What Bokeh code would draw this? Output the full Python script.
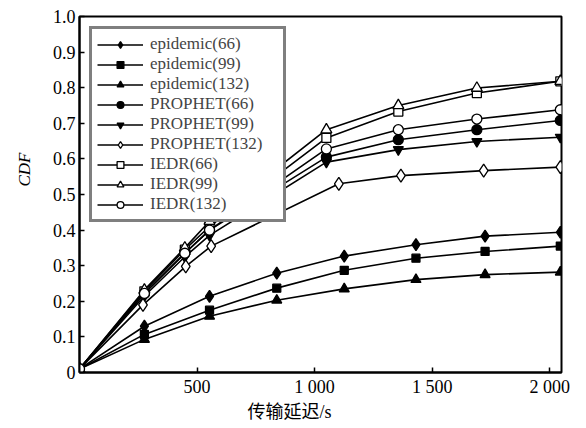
from bokeh.plotting import figure
from bokeh.models import FixedTicker, Range1d, Legend, Title
from bokeh.embed import file_html
from bokeh.resources import INLINE

# ---- data ----
epi_x = [0, 276, 553, 839, 1126, 1431, 1725, 2045]
epidemic66 = [0.01, 0.130, 0.214, 0.279, 0.327, 0.359, 0.383, 0.394]
epidemic99 = [0.01, 0.107, 0.175, 0.237, 0.287, 0.321, 0.340, 0.355]
epidemic132 = [0.01, 0.093, 0.158, 0.203, 0.235, 0.261, 0.275, 0.282]

up_x = [0, 276, 448, 553, 1050, 1356, 1690, 2045]
p132_x = [0, 270, 452, 560, 1103, 1367, 1719, 2045]
prophet66 = [0.01, 0.222, 0.335, 0.400, 0.605, 0.654, 0.682, 0.708]
prophet99 = [0.01, 0.215, 0.325, 0.385, 0.591, 0.626, 0.649, 0.661]
prophet132 = [0.01, 0.190, 0.298, 0.355, 0.530, 0.553, 0.567, 0.577]
iedr66 = [0.01, 0.228, 0.345, 0.410, 0.659, 0.733, 0.785, 0.818]
iedr99 = [0.01, 0.232, 0.350, 0.425, 0.682, 0.750, 0.799, 0.818]
iedr132 = [0.01, 0.222, 0.335, 0.400, 0.628, 0.682, 0.712, 0.738]

x_ticks = [500, 1000, 1500, 2000]
x_tick_labels = ["500", "1 000", "1 500", "2 000"]
y_ticks = [0, 0.1, 0.2, 0.3, 0.4, 0.5, 0.6, 0.7, 0.8, 0.9, 1.0]
y_tick_labels = ["0", "0.1", "0.2", "0.3", "0.4", "0.5", "0.6", "0.7", "0.8", "0.9", "1.0"]

series = [
    ("epidemic(66)", epi_x, epidemic66, "diamond", True, 12),
    ("epidemic(99)", epi_x, epidemic99, "square", True, 8),
    ("epidemic(132)", epi_x, epidemic132, "triangle", True, 10),
    ("PROPHET(66)", up_x, prophet66, "circle", True, 10),
    ("PROPHET(99)", up_x, prophet99, "inverted_triangle", True, 10),
    ("PROPHET(132)", p132_x, prophet132, "diamond", False, 13),
    ("IEDR(66)", up_x, iedr66, "square", False, 9),
    ("IEDR(99)", up_x, iedr99, "triangle", False, 11),
    ("IEDR(132)", up_x, iedr132, "circle", False, 10),
]

SERIF = "'Liberation Serif', 'Times New Roman', 'DejaVu Serif', serif"
CJK = "'Liberation Serif', 'Noto Sans CJK SC', serif"

p = figure(width=578, height=426, output_backend="svg", toolbar_location=None,
           x_range=Range1d(0, 2050), y_range=Range1d(0, 1.0),
           min_border_left=76, min_border_right=17, min_border_top=16, min_border_bottom=54)
p.xgrid.visible = False
p.ygrid.visible = False
p.outline_line_color = "black"
p.outline_line_width = 2
p.background_fill_color = "white"
p.border_fill_color = "white"

for ax in (p.xaxis[0], p.yaxis[0]):
    ax.axis_line_color = "black"
    ax.axis_line_width = 2
    ax.major_tick_in = 5
    ax.major_tick_out = 0
    ax.minor_tick_in = 0
    ax.minor_tick_out = 0
    ax.major_tick_line_width = 1.5
    ax.major_label_text_font = SERIF
    ax.major_label_text_font_size = "18px"
    ax.major_label_text_color = "black"

p.xaxis[0].ticker = FixedTicker(ticks=x_ticks)
p.xaxis[0].major_label_overrides = dict(zip(x_ticks, x_tick_labels))
p.xaxis[0].major_label_standoff = 4
p.yaxis[0].ticker = FixedTicker(ticks=y_ticks)
p.yaxis[0].major_label_overrides = dict(zip(y_ticks, y_tick_labels))
p.yaxis[0].major_label_standoff = 4

items = []
for name, xs, ys, marker, filled, size in series:
    ln = p.line(xs, ys, line_color="black", line_width=1.6)
    sc = p.scatter(xs, ys, marker=marker, size=size, line_color="black", line_width=1.3,
                   fill_color="black" if filled else "white")
    items.append((name, [ln, sc]))

legend = Legend(items=items, location="top_left", margin=10,
                label_text_font=SERIF, label_text_font_size="17px",
                label_text_line_height=1.0,
                label_height=17, glyph_height=17, glyph_width=46,
                label_width=128, label_standoff=7, spacing=0, padding=5,
                border_line_color="black", border_line_width=3,
                background_fill_color="white", background_fill_alpha=1.0)
p.add_layout(legend, "center")

ylab = Title(text="CDF", align="left", offset=186, standoff=28, vertical_align="top",
             text_font=SERIF, text_font_style="italic", text_font_size="17px",
             text_color="black")
p.add_layout(ylab, "left")
xlab = Title(text="传输延迟/s", align="left", offset=168, standoff=0,
             text_font=CJK, text_font_style="normal", text_font_size="18px",
             text_color="black")
p.add_layout(xlab, "below")

open("out.html", "w").write(file_html(p, INLINE))
